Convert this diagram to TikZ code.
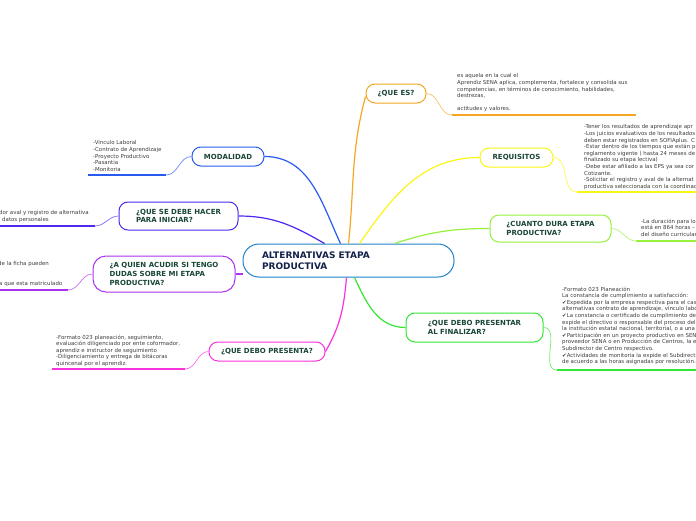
\documentclass[tikz,border=0pt]{standalone}
\usepackage{fontspec}
\setmainfont{DejaVu Sans}
\definecolor{cQue}{RGB}{245,166,35}
\definecolor{cReq}{RGB}{250,245,20}
\definecolor{cDur}{RGB}{150,240,60}
\definecolor{cFin}{RGB}{50,230,50}
\definecolor{cPre}{RGB}{250,50,220}
\definecolor{cAcu}{RGB}{170,50,240}
\definecolor{cHac}{RGB}{80,40,240}
\definecolor{cMod}{RGB}{40,90,240}
\definecolor{cCore}{RGB}{30,130,200}
\definecolor{tLabel}{RGB}{25,70,55}
\definecolor{tCore}{RGB}{20,35,75}
\definecolor{tLeaf}{RGB}{60,60,60}

\begin{document}
\begin{tikzpicture}[x=1pt, y=-1pt,
	topic/.style={draw=#1, line width=1pt, rounded corners=9pt, fill=white, text=tLabel,
		font=\fontsize{7}{8.7}\selectfont\bfseries, align=left, inner sep=0pt, minimum height=19pt},
	leaf/.style={anchor=north west, inner sep=0pt, align=left, text=tLeaf,
		font=\fontsize{5.45}{6.6}\selectfont},
	branch/.style={draw=#1, line width=1.2pt},
	twig/.style={draw=#1!70, line width=0.7pt},
	rule/.style={draw=#1, line width=1.6pt}]
	\useasboundingbox (0,0) rectangle (696,520);
	% core
	\node[draw=cCore, line width=1pt, rounded corners=16pt, fill=white, text=tCore,
		font=\fontsize{9}{11}\selectfont\bfseries, align=left, text width=173pt,
		inner xsep=19pt, minimum height=33pt] (core) at (348.5,260.5)
		{ALTERNATIVAS ETAPA\\PRODUCTIVA};
	% topics
	\node[topic=cQue, minimum width=60pt] (que) at (396,93.5) {¿QUE ES?};
	\node[topic=cReq, minimum width=73pt] (req) at (516.5,157.5) {REQUISITOS};
	\node[topic=cDur, minimum width=121pt, minimum height=27pt] (dur) at (550.5,228.5)
		{¿CUANTO DURA ETAPA\\PRODUCTIVA?};
	\node[topic=cFin, minimum width=137pt, minimum height=29pt] (fin) at (474.5,327.5)
		{¿QUE DEBO PRESENTAR\\AL FINALIZAR?};
	\node[topic=cMod, minimum width=72pt] (mod) at (228,156.5) {MODALIDAD};
	\node[topic=cHac, minimum width=119pt, minimum height=28pt] (hac) at (178.5,216)
		{¿QUE SE DEBE HACER\\PARA INICIAR?};
	\node[topic=cAcu, minimum width=142pt, minimum height=36pt, rounded corners=13pt] (acu) at (164,274)
		{¿A QUIEN ACUDIR SI TENGO\\DUDAS SOBRE MI ETAPA\\PRODUCTIVA?};
	\node[topic=cPre, minimum width=116pt] (pre) at (267,351.5) {¿QUE DEBO PRESENTA?};
	% branches
	\draw[branch=cQue] ([xshift=106pt]core.north west) to[out=84, in=-105] ([yshift=-3pt]que.west);
	\draw[branch=cReq] ([xshift=117pt]core.north west) to[out=55, in=180] (req.west);
	\draw[branch=cDur] ([xshift=152pt]core.north west) to[out=18, in=180] (dur.west);
	\draw[branch=cFin] ([xshift=112pt]core.south west) to[out=-65, in=180] (fin.west);
	\draw[branch=cPre] ([xshift=104pt]core.south west) to[out=-95, in=60] (pre.east);
	\draw[branch=cMod] ([xshift=98pt]core.north west) to[out=115, in=0] (mod.east);
	\draw[branch=cHac] ([xshift=82pt]core.north west) to[out=150, in=0] (hac.east);
	\draw[branch=cAcu] (acu.east) -- (core.west |- acu.east);
	% leaves
	\coordinate (queA) at (452,115); \coordinate (queB) at (636,115);
	\coordinate (reqA) at (577,192); \coordinate (reqB) at (700,192);
	\coordinate (durA) at (636,241); \coordinate (durB) at (700,241);
	\coordinate (finA) at (557,370); \coordinate (finB) at (700,370);
	\coordinate (modA) at (166,175); \coordinate (modB) at (88,175);
	\coordinate (hacA) at (95,226);  \coordinate (hacB) at (-4,226);
	\coordinate (acuA) at (68,290);  \coordinate (acuB) at (-4,290);
	\coordinate (preA) at (185,369); \coordinate (preB) at (52,369);
	\foreach \t/\c/\s/\e in {que/cQue/east/180, req/cReq/east/180, dur/cDur/east/180, fin/cFin/east/180,
		mod/cMod/west/0, hac/cHac/west/0, acu/cAcu/west/0, pre/cPre/west/0} {
		\draw[twig=\c] (\t.\s) to[out=\e+180, in=\e] (\t A);
		\draw[rule=\c] (\t A) -- (\t B);
	}
	\node[leaf] (queL) at (457,73.5) {es aquela en la cual el\\
		Aprendiz SENA aplica, complementa, fortalece y consolida sus\\
		competencias, en términos de conocimiento, habilidades,\\
		destrezas,\\[6.6pt]
		actitudes y valores.};
	\node[leaf] (reqL) at (584,124.5) {-Tener los resultados de aprendizaje apr\\
		-Los juicios evaluativos de los resultados\\
		deben estar registrados en SOFIAplus. C\\
		-Estar dentro de los tiempos que están p\\
		reglamento vigente ( hasta 24 meses de\\
		finalizado su etapa lectiva)\\
		-Debe estar afiliado a las EPS ya sea cor\\
		Cotizante.\\
		-Solicitar el registro y aval de la alternat\\
		productiva seleccionada con la coordinac};
	\node[leaf] (durL) at (641,218.5) {-La duración para lo\\
		está en 864 horas –\\
		del diseño curricular};
	\node[leaf] (finL) at (562,286.5) {-Formato 023 Planeación\\
		La constancia de cumplimiento a satisfacción:\\
		✔Expedida por la empresa respectiva para el cas\\
		alternativas contrato de aprendizaje, vínculo labo\\
		✔La constancia o certificado de cumplimiento de\\
		expide el directivo o responsable del proceso del\\
		la institución estatal nacional, territorial, o a una\\
		✔Participación en un proyecto productivo en SEN\\
		proveedor SENA o en Producción de Centros, la e\\
		Subdirector de Centro respectivo.\\
		✔Actividades de monitoria la expide el Subdirect\\
		de acuerdo a las horas asignadas por resolución.};
	\node[leaf] (modL) at (93,140.5) {-Vinculo Laboral\\
		-Contrato de Aprendizaje\\
		-Proyecto Productivo\\
		-Pasantia\\
		-Monitoria};
	\node[leaf] (hacL) at (-1,210.5) {dor aval y registro de alternativa\\
		\hspace{3pt}datos personales};
	\node[leaf] (acuL) at (-2,261.5) {de la ficha pueden\\[13.2pt]
		\hspace{1pt}a que esta matriculado};
	\node[leaf] (preL) at (56,334.5) {-Formato 023 planeación, seguimiento,\\
		evaluación diligenciado por ente coformador,\\
		aprendiz e instructor de seguimiento\\
		-Diligenciamiento y entrega de bitácoras\\
		quincenal por el aprendiz.};
\end{tikzpicture}
\end{document}
